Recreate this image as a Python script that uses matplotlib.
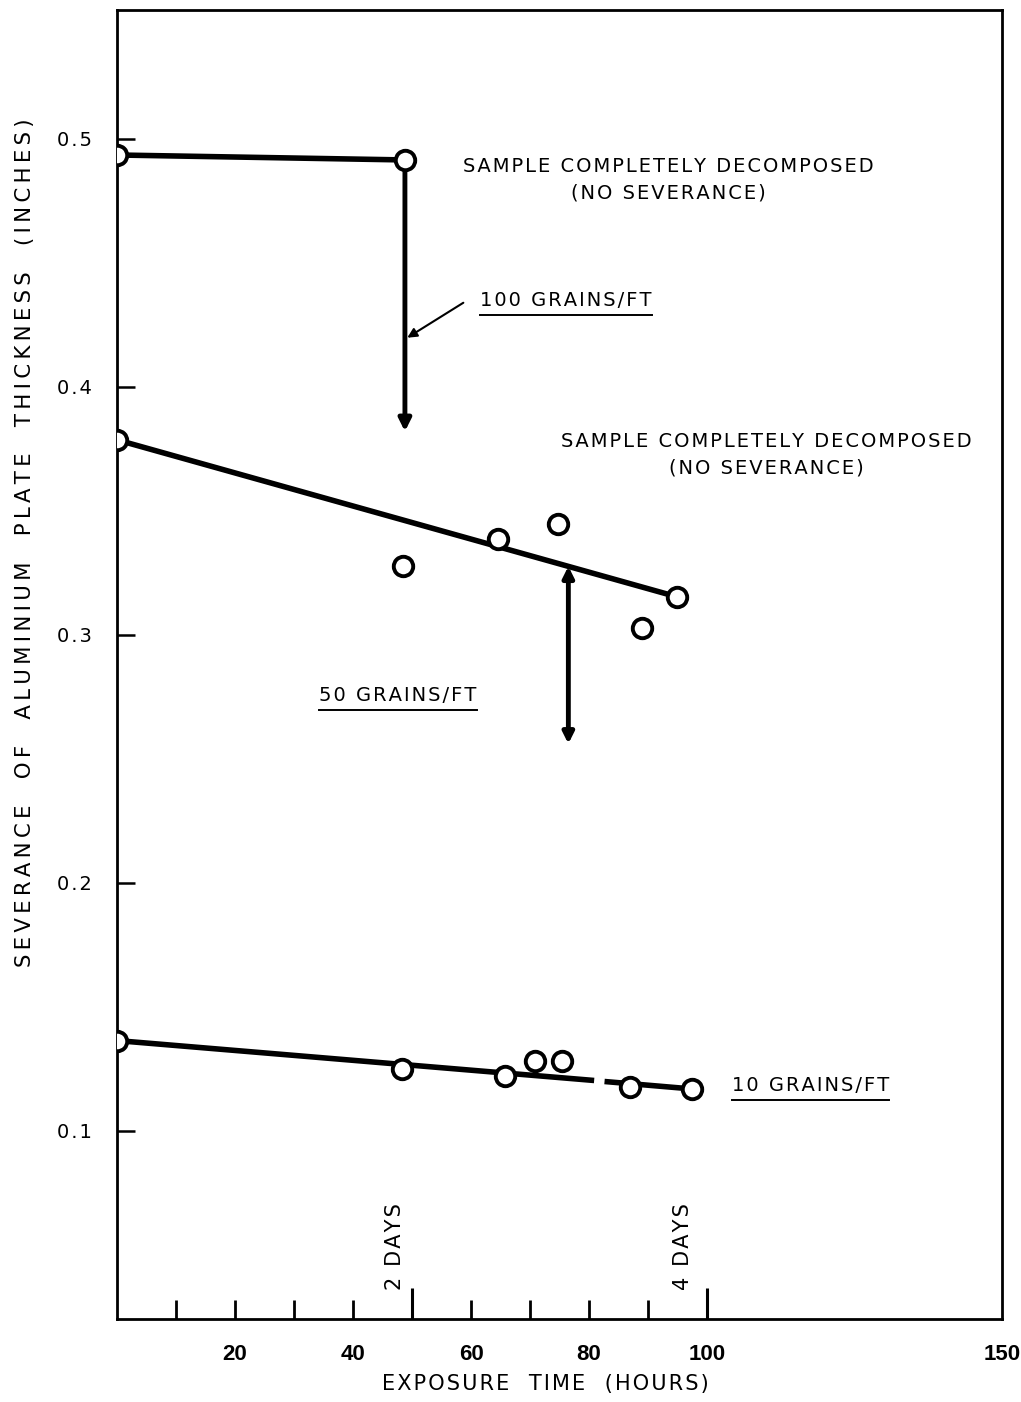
import matplotlib
matplotlib.use('Agg')
import matplotlib.pyplot as plt
from matplotlib.lines import Line2D

plt.rcParams['font.family'] = ['DejaVu Sans']

# 100 grains/ft
hours_100 = [0, 48.8]
sev_100 = [0.4935, 0.4915]
drop_100 = 0.382

# 50 grains/ft
hours_50 = [0, 48.5, 64.6, 74.8, 88.9, 94.9]
sev_50 = [0.3786, 0.3278, 0.3386, 0.3446, 0.3029, 0.3153]
fit_50_hours = [0, 94.9]
fit_50_sev = [0.3786, 0.3153]
arrow_50_hours = 76.5
arrow_50_top = 0.3276
arrow_50_bottom = 0.256

# 10 grains/ft
hours_10 = [0, 48.3, 65.8, 70.8, 75.4, 87.0, 97.4]
sev_10 = [0.1363, 0.1249, 0.1222, 0.1282, 0.1282, 0.1175, 0.1168]
fit_10_pieces = [([0, 80.4], [0.1363, 0.1203]), ([83.1, 97.4], [0.1197, 0.1168])]

xtick_labels = [20, 40, 60, 80, 100, 150]
xtick_minor = [10, 20, 30, 40, 50, 60, 70, 80, 90, 100]
xtick_long = [50, 100]
yticks = [0.1, 0.2, 0.3, 0.4, 0.5]


def spaced(s, gap='\u200a'):
    # the original lettering is widely tracked
    return gap.join(s)


fig = plt.figure(figsize=(10.21, 14.02), dpi=100)
ax = fig.add_axes([0.1146, 0.0592, 0.8668, 0.9337])
ax.set_xlim(0, 150)
ax.set_ylim(0.024, 0.552)

lw = 4
mk = dict(marker='o', ms=14, mfc='white', mec='black', mew=2.8, ls='none', zorder=5)

# 100 grains
ax.plot(hours_100, sev_100, color='black', lw=lw, zorder=3)
ax.plot(hours_100, sev_100, **mk)
ax.annotate('', xy=(hours_100[-1], drop_100), xytext=(hours_100[-1], sev_100[-1]),
            arrowprops=dict(arrowstyle='-|>', color='black', lw=3.5, mutation_scale=18,
                            shrinkA=8, shrinkB=0))

# 50 grains
ax.plot(fit_50_hours, fit_50_sev, color='black', lw=lw, zorder=3)
ax.plot(hours_50, sev_50, **mk)
ax.annotate('', xy=(arrow_50_hours, arrow_50_bottom), xytext=(arrow_50_hours, arrow_50_top),
            arrowprops=dict(arrowstyle='<|-|>', color='black', lw=3.5, mutation_scale=16,
                            shrinkA=0, shrinkB=0))

# 10 grains
for hx, sy in fit_10_pieces:
    ax.plot(hx, sy, color='black', lw=lw, zorder=3)
ax.plot(hours_10, sev_10, **mk)

# axes styling
for s in ax.spines.values():
    s.set_linewidth(2)
ax.set_yticks(yticks)
ax.set_yticklabels([spaced('%.1f' % v) for v in yticks])
ax.tick_params(axis='y', direction='in', length=13, width=1.8, pad=18, labelsize=14)
ax.xaxis.remove_overlapping_locs = False
ax.set_xticks(xtick_labels)
ax.set_xticklabels([str(v) for v in xtick_labels])
ax.tick_params(axis='x', which='major', length=0, pad=18, labelsize=16)
for lab in ax.get_xticklabels():
    lab.set_fontfamily(['Liberation Sans', 'DejaVu Sans'])
    lab.set_fontweight('bold')
ax.set_xticks(xtick_minor, minor=True)
ax.tick_params(axis='x', which='minor', direction='in', length=14, width=2)
ax.vlines(xtick_long, 0, 0.024, transform=ax.get_xaxis_transform(), color='black', lw=2.2)

fig.text(25 / 1021, 1 - 543 / 1402,
         spaced('SEVERANCE  OF  ALUMINIUM  PLATE  THICKNESS  (INCHES)', '\u2009'),
         rotation=90, ha='center', va='center', fontsize=15.3)
fig.text(545 / 1021, 1 - 1384 / 1402, spaced('EXPOSURE  TIME  (HOURS)'),
         ha='center', va='center', fontsize=15)

note = spaced('SAMPLE COMPLETELY DECOMPOSED') + '\n' + spaced('(NO SEVERANCE)')
ax.text(93.4, 0.4835, note, ha='center', va='center', fontsize=14, linespacing=1.45)
ax.text(110.0, 0.3726, note, ha='center', va='center', fontsize=14, linespacing=1.45)

labels = [
    ('100 GRAINS/FT', 76.1, 0.4347),
    ('50 GRAINS/FT', 47.6, 0.2754),
    ('10 GRAINS/FT', 117.6, 0.1181),
]
texts = [ax.text(x, y, spaced(t), ha='center', va='center', fontsize=14)
         for t, x, y in labels]

ax.annotate('', xy=(49.2, 0.4198), xytext=(58.7, 0.4339),
            arrowprops=dict(arrowstyle='-|>', color='black', lw=1.5, mutation_scale=14,
                            shrinkA=0, shrinkB=0))

ax.text(47.1, 0.0355, spaced('2 DAYS'), rotation=90, ha='center', va='bottom', fontsize=15)
ax.text(95.9, 0.0355, spaced('4 DAYS'), rotation=90, ha='center', va='bottom', fontsize=15)

# underline the grain labels
fig.canvas.draw()
inv = fig.transFigure.inverted()
for t in texts:
    bb = t.get_window_extent()
    (x0, y0), (x1, _) = inv.transform([(bb.x0, bb.y0 - 5), (bb.x1, bb.y0 - 5)])
    fig.add_artist(Line2D([x0, x1], [y0, y0], color='black', lw=1.4))

fig.savefig('out.png', dpi=100, facecolor='white')
